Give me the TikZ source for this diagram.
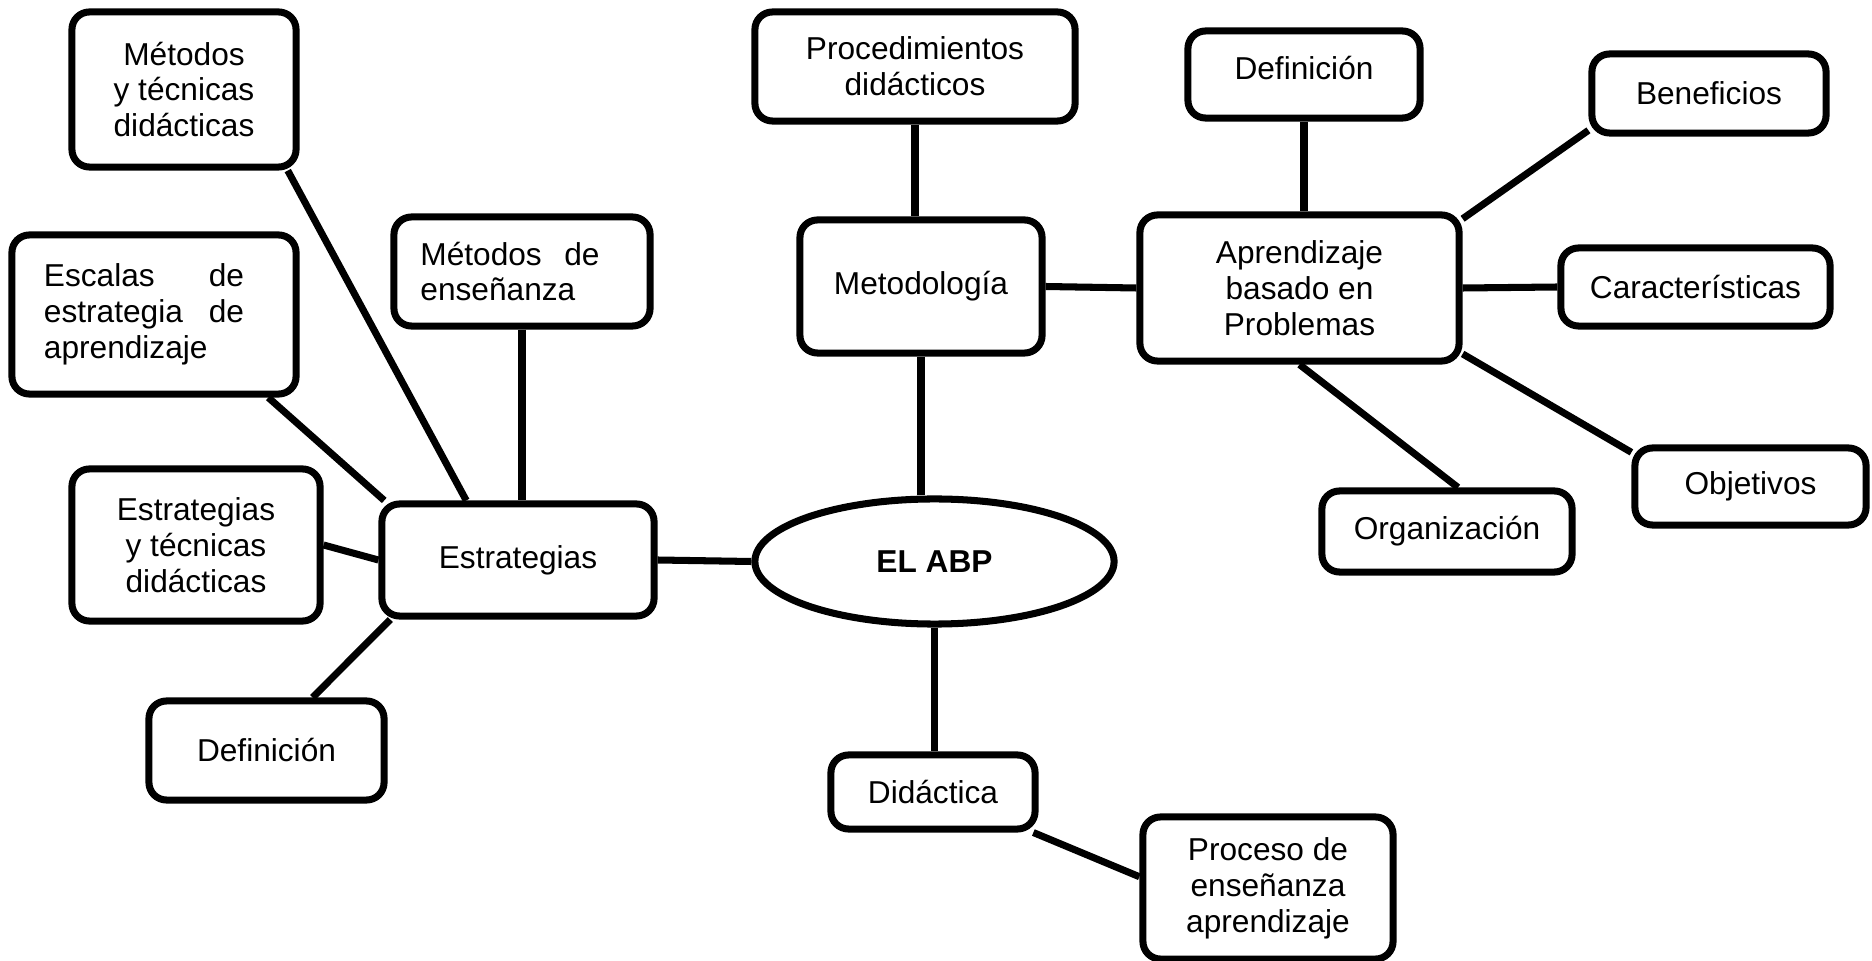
\documentclass[tikz,border=0pt]{standalone}
\usepackage{fontspec}
\setmainfont{Liberation Sans}
\usetikzlibrary{shapes.geometric}
\newcommand{\lwidth}{2pt}
\newcommand{\corner}{5pt}

\begin{document}
\begin{tikzpicture}[x=0.01cm,y=-0.01cm,
    caja/.style={draw, rounded corners=\corner, line width=\lwidth, align=center, inner sep=2pt, font=\fontsize{9}{10.2}\selectfont},
    enlace/.style={line width=\lwidth}]
    \useasboundingbox (0,0) rectangle (1872,961);
    %\draw[help lines] (0,0) grid[step=100] (1872,961);

    % lado izquierdo
    \node[caja, minimum width=2.24cm, minimum height=1.55cm] (mettec) at (184,89.5) {Métodos\\y técnicas\\didácticas};
    \node[caja, minimum width=2.84cm, minimum height=1.59cm, text width=2.2cm, align=left] (escalas) at (154,314.5) {Escalas\hfill de\rule{0.2cm}{0pt}\\estrategia\hfill de\rule{0.2cm}{0pt}\\aprendizaje};
    \node[caja, minimum width=2.56cm, minimum height=1.09cm, text width=2.03cm, align=left] (metens) at (522,271.5) {Métodos\hfill de\rule{0.24cm}{0pt}\\enseñanza};
    \node[caja, minimum width=2.48cm, minimum height=1.52cm] (esttec) at (196,545) {Estrategias\\y técnicas\\didácticas};
    \node[caja, minimum width=2.72cm, minimum height=1.12cm] (estr) at (518,560) {Estrategias};
    \node[caja, minimum width=2.35cm, minimum height=0.99cm] (defl) at (266.5,750.5) {Definición};

    % centro
    \node[draw, ellipse, line width=\lwidth, minimum width=3.59cm, minimum height=1.25cm, inner sep=0pt, font=\fontsize{9}{10.2}\selectfont\bfseries] (abp) at (934.5,561.5) {EL ABP};
    \node[caja, minimum width=2.04cm, minimum height=0.74cm] (did) at (933,792) {Didáctica};
    \node[caja, minimum width=2.50cm, minimum height=1.42cm] (proc) at (1268,888) {Proceso de\\enseñanza\\aprendizaje};
    \node[caja, minimum width=2.42cm, minimum height=1.33cm] (metod) at (921,286.5) {Metodología};
    \node[caja, minimum width=3.20cm, minimum height=1.09cm] (procd) at (915,66.5) {Procedimientos\\didácticos};

    % lado derecho
    \node[caja, minimum width=2.32cm, minimum height=0.87cm, text depth=0.14cm] (defr) at (1304,74.5) {Definición};
    \node[caja, minimum width=3.19cm, minimum height=1.46cm] (abpb) at (1299.5,288) {Aprendizaje\\basado en\\Problemas};
    \node[caja, minimum width=2.34cm, minimum height=0.79cm] (benef) at (1709,93.5) {Beneficios};
    \node[caja, minimum width=2.69cm, minimum height=0.78cm] (carac) at (1695.5,287) {Características};
    \node[caja, minimum width=2.31cm, minimum height=0.77cm] (obj) at (1750.5,486.5) {Objetivos};
    \node[caja, minimum width=2.50cm, minimum height=0.81cm] (org) at (1447,531.5) {Organización};

    \draw[enlace] (mettec.-38) -- (estr.131);
    \draw[enlace] (escalas.-36) -- (estr.156);
    \draw[enlace] (metens.south) -- (metens.south |- estr.north);
    \draw[enlace] (esttec.east) -- (estr.west);
    \draw[enlace] (defl.49) -- (estr.205);
    \draw[enlace] (estr.east) -- (abp.west);
    \draw[enlace] (metod.south) -- (metod.south |- abp.north);
    \draw[enlace] (abp.south) -- (abp.south |- did.north);
    \draw[enlace] (did.-22) -- (proc.175);
    \draw[enlace] (procd.south) -- (procd.south |- metod.north);
    \draw[enlace] (metod.east) -- (abpb.west);
    \draw[enlace] (defr.south) -- (defr.south |- abpb.north);
    \draw[enlace] (abpb.23) -- (benef.197);
    \draw[enlace] (abpb.east) -- (carac.west);
    \draw[enlace] (abpb.-22) -- (obj.164);
    \draw[enlace] (abpb.south) -- (org.76);
\end{tikzpicture}
\end{document}
